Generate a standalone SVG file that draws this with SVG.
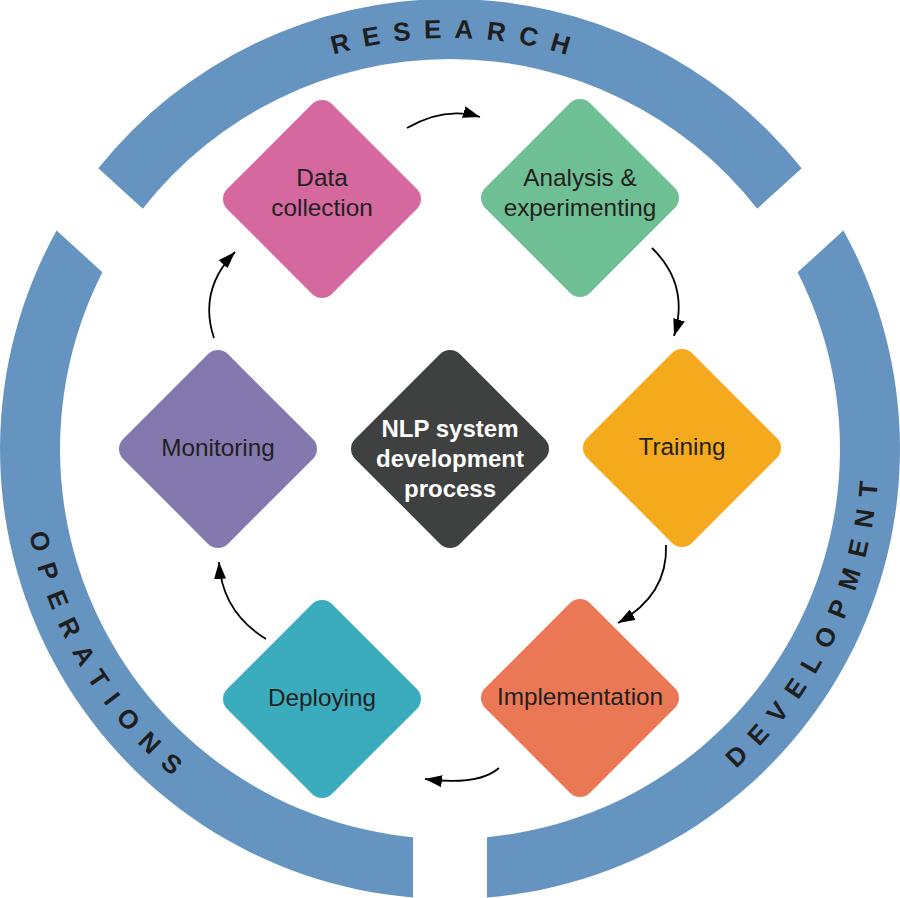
<svg xmlns="http://www.w3.org/2000/svg" xmlns:xlink="http://www.w3.org/1999/xlink" width="900" height="898" viewBox="0 0 900 898">
<style>
.band{fill:#6694c0}
.bandtxt{font-family:"Liberation Sans",Arial,sans-serif;font-weight:bold;font-size:26px;letter-spacing:13px;fill:#1e1e1e}
.lbl{font-family:"Liberation Sans",Arial,sans-serif;font-size:24.3px;fill:#231f20;text-anchor:middle}
.ctr{font-family:"Liberation Sans",Arial,sans-serif;font-size:24px;font-weight:bold;fill:#ffffff;text-anchor:middle}
.arr{fill:none;stroke:#000;stroke-width:1.8;marker-end:url(#ah)}
</style>
<defs>
<rect id="dia" x="-74.1" y="-74.1" width="148.2" height="148.2" rx="14" ry="14" transform="rotate(45)"/>
<marker id="ah" markerUnits="userSpaceOnUse" markerWidth="19" markerHeight="13" refX="17" refY="6" orient="auto">
<path d="M0,0 L17,6 L0,12 Z" fill="#000"/>
</marker>
<path id="topArc" d="M 39 449 A 411 411 0 0 1 861 449"/>
<path id="botArc" d="M 21 449 A 429 429 0 0 0 879 449"/>
</defs>
<rect width="900" height="898" fill="#ffffff"/>
<g id="ring">
<g id="research">
<path class="band" d="M 98.3 168.3 A 450 450 0 0 1 801.7 168.3 L 757.2 208.7 A 390 390 0 0 0 142.8 208.7 Z"/>
<text class="bandtxt" text-anchor="middle"><textPath xlink:href="#topArc" startOffset="652">RESEARCH</textPath></text>
</g>
<g id="operations">
<path class="band" d="M 56.6 230.6 A 450 450 0 0 0 413 897.5 L 413 837.2 A 390 390 0 0 1 102.4 272.2 Z"/>
<text class="bandtxt" text-anchor="middle"><textPath xlink:href="#botArc" startOffset="235">OPERATIONS</textPath></text>
</g>
<g id="development">
<path class="band" d="M 843.4 230.6 A 450 450 0 0 1 487 897.5 L 487 837.2 A 390 390 0 0 0 797.6 272.2 Z"/>
<text class="bandtxt" text-anchor="middle"><textPath xlink:href="#botArc" startOffset="1157">DEVELOPMENT</textPath></text>
</g>
</g>
<g id="connectors">
<path class="arr" d="M 407 128 Q 445 106 480 117"/>
<path class="arr" d="M 652 248 Q 690 285 674 336"/>
<path class="arr" d="M 666 545 Q 668 595 618 623"/>
<path class="arr" d="M 499 768 Q 478 786 425 779"/>
<path class="arr" d="M 266 639 Q 222 612 219 562"/>
<path class="arr" d="M 214 338 Q 198 290 235 252"/>
</g>
<g id="data-collection" transform="translate(322,199)">
<use xlink:href="#dia" fill="#d5689e"/>
<text class="lbl" x="0" y="-13">Data</text>
<text class="lbl" x="0" y="17">collection</text>
</g>
<g id="analysis" transform="translate(580,198)">
<use xlink:href="#dia" fill="#6fbf95"/>
<text class="lbl" x="0" y="-12">Analysis &amp;</text>
<text class="lbl" x="0" y="18">experimenting</text>
</g>
<g id="training" transform="translate(682,448)">
<use xlink:href="#dia" fill="#f5aa1d"/>
<text class="lbl" x="0" y="7">Training</text>
</g>
<g id="implementation" transform="translate(580,698)">
<use xlink:href="#dia" fill="#eb7855"/>
<text class="lbl" x="0" y="7">Implementation</text>
</g>
<g id="deploying" transform="translate(322,699)">
<use xlink:href="#dia" fill="#3aacbe"/>
<text class="lbl" x="0" y="7">Deploying</text>
</g>
<g id="monitoring" transform="translate(218,449)">
<use xlink:href="#dia" fill="#8479af"/>
<text class="lbl" x="0" y="7">Monitoring</text>
</g>
<g id="center" transform="translate(450,449)">
<use xlink:href="#dia" fill="#3f4040"/>
<text class="ctr" x="0" y="-12">NLP system</text>
<text class="ctr" x="0" y="18">development</text>
<text class="ctr" x="0" y="48">process</text>
</g>
</svg>
